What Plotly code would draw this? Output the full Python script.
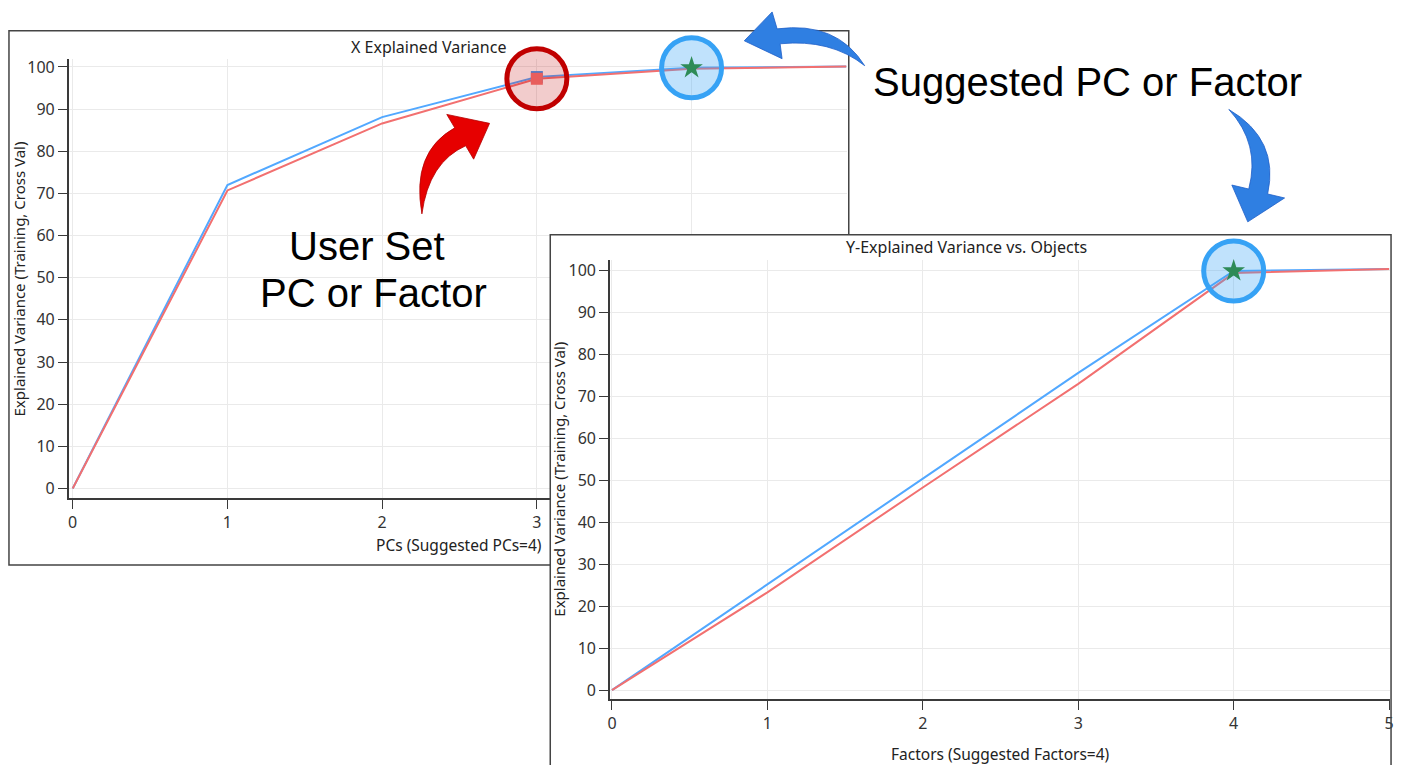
import plotly.graph_objects as go

W, H = 1404, 765

# ---- data -------------------------------------------------------------
components = [0, 1, 2, 3, 4, 5]
x_var_training = [0, 72.0, 88.1, 97.6, 99.8, 100.1]
x_var_crossval = [0, 70.7, 86.6, 97.2, 99.6, 100.1]
y_var_training = [0, 25.3, 50.4, 75.6, 99.9, 100.4]
y_var_crossval = [0, 23.3, 48.3, 73.0, 99.4, 100.4]
user_set_pc = 3
suggested_pc = 4
y_tick_vals = list(range(0, 101, 10))
x_tick_vals = [0, 1, 2, 3, 4, 5]

BLUE = "#52A8FF"
RED = "#F27070"
FONT_UI = "Noto Sans"
FONT_CALLOUT = "Liberation Sans"


def fx(px):
    return px / W


def fy(py):
    return 1 - py / H


def svg_path(cmds):
    """Build an SVG path in paper units from pixel-space commands."""
    out = []
    for c in cmds:
        op, pts = c[0], c[1:]
        out.append(op + " ".join(f"{fx(x):.5f},{fy(y):.5f}" for x, y in pts))
    return " ".join(out) + " Z"


fig = go.Figure()

# ---- X explained variance (left panel) -------------------------------
fig.add_trace(go.Scatter(x=components, y=x_var_training, mode="lines",
                         line=dict(color=BLUE, width=2), xaxis="x", yaxis="y"))
fig.add_trace(go.Scatter(x=components, y=x_var_crossval, mode="lines",
                         line=dict(color=RED, width=2), xaxis="x", yaxis="y"))
# highlight rings
fig.add_trace(go.Scatter(
    x=[user_set_pc], y=[x_var_crossval[user_set_pc]], mode="markers", cliponaxis=False,
    marker=dict(symbol="circle", size=60, color="rgba(190,0,0,0.20)",
                line=dict(color="#C00000", width=5)), xaxis="x", yaxis="y"))
fig.add_trace(go.Scatter(
    x=[suggested_pc], y=[x_var_training[suggested_pc]], mode="markers", cliponaxis=False,
    marker=dict(symbol="circle", size=60, color="rgba(60,165,245,0.32)",
                line=dict(color="#36A2F5", width=5)), xaxis="x", yaxis="y"))
# selected / suggested component markers
fig.add_trace(go.Scatter(x=[user_set_pc], y=[x_var_training[user_set_pc]], mode="markers",
                         marker=dict(symbol="square", size=12, color="#4F78C4"),
                         xaxis="x", yaxis="y", cliponaxis=False))
fig.add_trace(go.Scatter(x=[user_set_pc], y=[x_var_crossval[user_set_pc]], mode="markers",
                         marker=dict(symbol="square", size=12, color="#E85E5C"),
                         xaxis="x", yaxis="y", cliponaxis=False))
fig.add_trace(go.Scatter(x=[suggested_pc], y=[x_var_training[suggested_pc]], mode="markers",
                         marker=dict(symbol="star", size=17, color="#2E8B57"),
                         xaxis="x", yaxis="y", cliponaxis=False))

# ---- blank sheet behind the right panel -----------------------------
fig.add_trace(go.Scatter(x=[], y=[], xaxis="x2", yaxis="y2", mode="lines"))

# ---- Y explained variance (right panel) ------------------------------
fig.add_trace(go.Scatter(x=components, y=y_var_training, mode="lines",
                         line=dict(color=BLUE, width=2), xaxis="x3", yaxis="y3"))
fig.add_trace(go.Scatter(x=components, y=y_var_crossval, mode="lines",
                         line=dict(color=RED, width=2), xaxis="x3", yaxis="y3"))
fig.add_trace(go.Scatter(
    x=[suggested_pc], y=[y_var_training[suggested_pc]], mode="markers", cliponaxis=False,
    marker=dict(symbol="circle", size=60, color="rgba(60,165,245,0.32)",
                line=dict(color="#36A2F5", width=5)), xaxis="x3", yaxis="y3"))
fig.add_trace(go.Scatter(x=[suggested_pc], y=[y_var_training[suggested_pc]], mode="markers",
                         marker=dict(symbol="star", size=17, color="#2E8B57"),
                         xaxis="x3", yaxis="y3", cliponaxis=False))

axis_style = dict(
    showline=True, linecolor="#3a3a3a", linewidth=1.5,
    ticks="outside", ticklen=9, tickwidth=1.2, tickcolor="#3a3a3a",
    showgrid=True, gridcolor="#EAEAEA", gridwidth=1, zeroline=False,
    tickfont=dict(family=FONT_UI, size=16, color="#333333"),
    fixedrange=True,
)
hidden_axis = dict(showline=False, showgrid=False, zeroline=False, showticklabels=False,
                   ticks="", range=[0, 1], fixedrange=True)

annotations = [
    dict(text="X Explained Variance", x=fx(428), y=fy(44), size=16),
    dict(text="Y-Explained Variance vs. Objects", x=fx(968), y=fy(245), size=16),
    dict(text="Explained Variance (Training, Cross Val)", x=fx(16), y=fy(277),
         textangle=-90, size=15),
    dict(text="PCs (Suggested PCs=4)", x=fx(458), y=fy(545), size=15.5),
    dict(text="Explained Variance (Training, Cross Val)", x=fx(559), y=fy(479),
         textangle=-90, size=15),
    dict(text="Factors (Suggested Factors=4)", x=fx(1002), y=fy(755), size=15.5),
]
for a in annotations:
    size = a.pop("size")
    a.update(xref="paper", yref="paper", showarrow=False, xanchor="center", yanchor="middle",
             font=dict(family=FONT_UI, size=size, color="#222222"))

callouts = [
    dict(text="Suggested PC or Factor", x=fx(1090), y=fy(79)),
    dict(text="User Set", x=fx(366), y=fy(244)),
    dict(text="PC or Factor", x=fx(372), y=fy(292)),
]
for a in callouts:
    a.update(xref="paper", yref="paper", showarrow=False, xanchor="center", yanchor="middle",
             font=dict(family=FONT_CALLOUT, size=40, color="#000000"))

shapes = [
    # frame of the left panel
    dict(type="rect", xref="paper", yref="paper", layer="below",
         x0=fx(6), x1=fx(850), y0=fy(565), y1=fy(28),
         line=dict(color="#444444", width=1.5), fillcolor="rgba(0,0,0,0)"),
    # frame of the right panel
    dict(type="path", xref="paper", yref="paper", layer="above",
         path=f"M{fx(550):.5f},{fy(770):.5f} L{fx(550):.5f},{fy(233):.5f} "
              f"L{fx(1395):.5f},{fy(233):.5f} L{fx(1395):.5f},{fy(770):.5f}",
         line=dict(color="#444444", width=1.5)),
    # red curved arrow towards the user-set component
    dict(type="path", xref="paper", yref="paper", layer="above",
         path=svg_path([("M", (421, 212)), ("Q", (410, 150), (454, 125.5)),
                        ("L", (446, 112)), ("L", (489, 121)), ("L", (473, 157)),
                        ("L", (465, 143.5)), ("Q", (428, 160), (421, 212))]),
         fillcolor="#E60000", line=dict(color="#B40000", width=0.8)),
    # blue curved arrow towards the suggested component (left panel)
    dict(type="path", xref="paper", yref="paper", layer="above",
         path=svg_path([("M", (866, 63)), ("Q", (838, 18), (778, 26)),
                        ("L", (773, 9)), ("L", (745, 38)), ("L", (783, 56)),
                        ("L", (781, 41)), ("Q", (832, 36), (866, 63))]),
         fillcolor="#2F7FE2", line=dict(color="#1F5FC8", width=0.8)),
    # blue curved arrow towards the suggested factor (right panel)
    dict(type="path", xref="paper", yref="paper", layer="above",
         path=svg_path([("M", (1232, 107)), ("Q", (1283, 137), (1271, 192)),
                        ("L", (1288, 196)), ("L", (1251, 220)), ("L", (1235, 183)),
                        ("L", (1252, 187)), ("Q", (1264, 142), (1232, 107))]),
         fillcolor="#2F7FE2", line=dict(color="#1F5FC8", width=0.8)),
]

fig.update_layout(
    width=W, height=H, margin=dict(l=0, r=0, t=0, b=0),
    paper_bgcolor="white", plot_bgcolor="white",
    showlegend=False, hovermode=False,
    xaxis=dict(axis_style, domain=[fx(66), fx(848)], range=[-0.026, 5.003],
               tickvals=x_tick_vals, anchor="y"),
    yaxis=dict(axis_style, domain=[fy(498), fy(56)], range=[-2.36, 101.96],
               tickvals=y_tick_vals, anchor="x"),
    xaxis2=dict(hidden_axis, domain=[fx(550), fx(1395)], anchor="y2"),
    yaxis2=dict(hidden_axis, domain=[0, fy(233)], anchor="x2"),
    xaxis3=dict(axis_style, domain=[fx(610), fx(1394)], range=[-0.013, 5.006],
                tickvals=x_tick_vals, anchor="y3"),
    yaxis3=dict(axis_style, domain=[fy(700), fy(258)], range=[-2.2, 102.6],
                tickvals=y_tick_vals, anchor="x3"),
    annotations=annotations + callouts,
    shapes=shapes,
)

fig.write_html("out.html")
